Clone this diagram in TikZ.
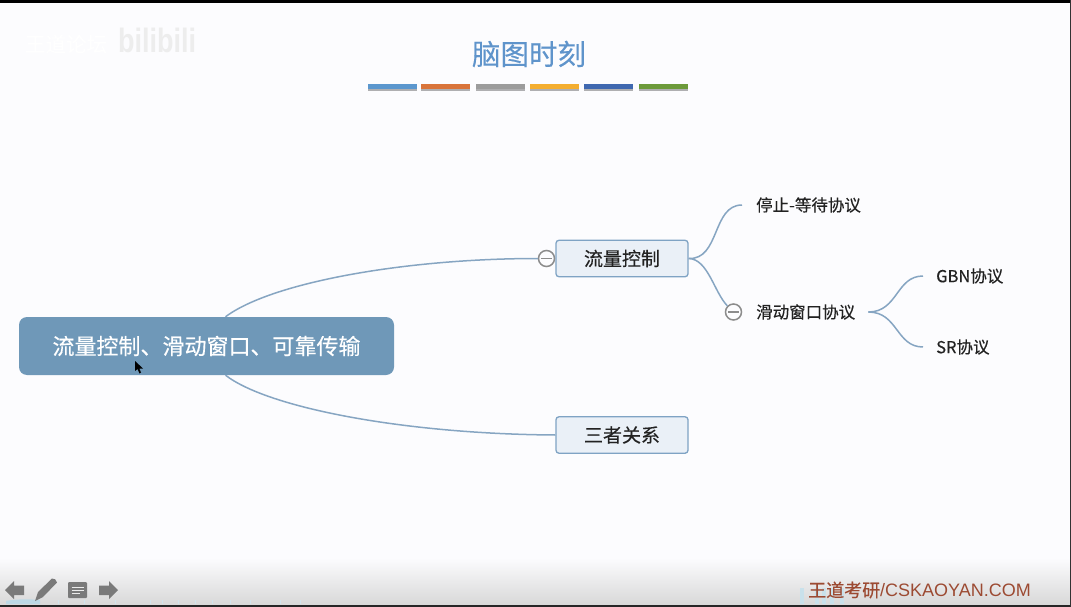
\documentclass[tikz,border=0pt]{standalone}
\usepackage{fontspec}
\setmainfont{Liberation Sans}
\newfontfamily\cjk[FakeBold=0.35]{Noto Sans CJK SC}
\usetikzlibrary{calc,shadows}
\definecolor{pagebg}{HTML}{FCFCFE}
\definecolor{titleblue}{HTML}{5F94CB}
\definecolor{linkblue}{HTML}{86A5C2}
\definecolor{rootfill}{HTML}{6F98B8}
\definecolor{boxfill}{HTML}{EAF0F7}
\definecolor{boxline}{HTML}{7FA3C4}
\definecolor{inktext}{HTML}{222222}
\definecolor{icongray}{HTML}{7A7A7A}
\definecolor{footred}{HTML}{9C4A32}
\definecolor{skyblue}{HTML}{BCD9E6}
\definecolor{barone}{HTML}{5B97CE}
\definecolor{bartwo}{HTML}{D9743A}
\definecolor{barthree}{HTML}{9C9C9C}
\definecolor{barfour}{HTML}{F4AE30}
\definecolor{barfive}{HTML}{3F68B0}
\definecolor{barsix}{HTML}{6C9A3A}
\tikzset{
  link/.style={draw=linkblue,line width=1.5pt},
  rootbox/.style={draw=none,fill=rootfill,rounded corners=8pt,minimum width=375pt,minimum height=58pt,inner sep=0pt,text=white,font=\cjk\fontsize{22}{24}\selectfont},
  topicbox/.style={draw=boxline,line width=1.3pt,fill=boxfill,rounded corners=3pt,minimum width=132pt,minimum height=36.5pt,inner sep=0pt,text=inktext,font=\cjk\fontsize{19}{22}\selectfont},
  leaf/.style={anchor=west,inner sep=0pt,text=inktext,font=\cjk\fontsize{16.5}{19}\selectfont},
  toggle/.style={circle,draw=black!45,line width=1.5pt,fill=pagebg,minimum size=16pt,inner sep=0pt},
  bar/.style={minimum height=5.5pt,minimum width=49pt,inner sep=0pt,anchor=west,drop shadow={shadow xshift=0pt,shadow yshift=-1.5pt,opacity=.3,fill=black}},
  icon/.style={fill=icongray,draw=none},
}
\begin{document}
\begin{tikzpicture}[x=1pt,y=-1pt]
\useasboundingbox (0,0) rectangle (1071,607);
% page
\fill[pagebg] (0,0) rectangle (1071,607);
\shade[top color=pagebg,bottom color=gray!30] (0,558) rectangle (1071,604);
\foreach \sx in {58,84,115,150,162,178,195,212,230,250,280,300}
  \fill[skyblue!70] (\sx,600) rectangle +(1,4);
\foreach \sx in {800,815,822,830,840}
  \fill[skyblue!80] (\sx,588) rectangle (\sx+4,604);
\fill[skyblue] (6,601) .. controls (15,599) and (30,599) .. (40,600) -- (40,604) -- (6,604) -- cycle;
\fill[black] (0,0) rectangle (1071,3);
\fill[black!85] (0,604.5) rectangle (1071,607);
\fill[black!80] (1069.5,0) rectangle (1071,607);
% watermarks
\node[inner sep=0pt,text=white,font=\cjk\fontsize{20.5}{22}\selectfont] (wm) at (66,44) {王道论坛};
\node[inner sep=0pt,text=black!7,yscale=1.25,font=\bfseries\fontsize{27}{28}\selectfont] (bili) at (157,40) {bilibili};
% title
\node[inner sep=0pt,text=titleblue,font=\cjk\fontsize{28.5}{32}\selectfont] (title) at (529,54) {脑图时刻};
\node[bar,fill=barone] (b1) at (367.5,86.5) {};
\node[bar,fill=bartwo] (b2) at (421,86.5) {};
\node[bar,fill=barthree] (b3) at (476,86.5) {};
\node[bar,fill=barfour] (b4) at (530,86.5) {};
\node[bar,fill=barfive] (b5) at (584,86.5) {};
\node[bar,fill=barsix] (b6) at (639,86.5) {};
% nodes
\node[rootbox] (root) at (206.5,346) {流量控制、滑动窗口、可靠传输};
\node[topicbox] (flow) at (622,258.5) {流量控制};
\node[topicbox] (rel) at (622,435) {三者关系};
\node[toggle] (t1) at (546.5,258.5) {};
\node[toggle] (t2) at (733.5,312) {};
\draw[black!45,line width=1.4pt] (t1.center) ++(-5.5,0) -- ++(11,0);
\draw[black!45,line width=1.4pt] (t2.center) ++(-5.5,0) -- ++(11,0);
\node[leaf] (stop) at (756,205) {停止-等待协议};
\node[leaf] (slide) at (756,312) {滑动窗口协议};
\node[leaf] (gbn) at (936,276) {GBN{\cjk 协议}};
\node[leaf] (sr) at (936,347) {SR{\cjk 协议}};
% free connector ends
\coordinate (rt) at ($(root.north)+(19,0)$);
\coordinate (rb) at ($(root.south)+(19,0)$);
\coordinate (stopend) at ($(stop.west)+(-14,0)$);
\coordinate (gbnend) at ($(gbn.west)+(-13,0)$);
\coordinate (srend) at ($(sr.west)+(-13,0)$);
\coordinate (slideout) at ($(slide.east)+(13,0)$);
% connectors
\draw[link] (rt) .. controls (272,282) and (407,258.5) .. (t1.west);
\draw[link] (rb) .. controls (268,408) and (405,434) .. (rel.west);
\draw[link] (flow.east) .. controls (720,260) and (712,205) .. (stopend);
\draw[link] (flow.east) .. controls (708,259) and (714,292) .. (t2.north west);
\draw[link] (slideout) .. controls (898,312) and (896,276) .. (gbnend);
\draw[link] (slideout) .. controls (898,312) and (896,347) .. (srend);
% cursor
\fill[black] (135,361) -- (135,371) -- (137.5,369) -- (139.5,373.5) -- (141,372.5) -- (139.3,368.5) -- (143,368.5) -- cycle;
% toolbar icons
\fill[icon] (5,590) -- (14,581) -- (14,585.5) -- (24,585.5) -- (24,595) -- (14,595) -- (14,599) -- cycle;
\fill[icon] (35,601) -- (38,592) -- (52,578.5) .. controls (54,578) and (57,580) .. (57,582.5) -- (43,597) -- cycle;
\fill[icon,rounded corners=1pt] (68,582) rectangle (87,598);
\draw[white!85!gray,line width=1pt] (71.5,587) -- (84,587) (71.5,590) -- (84,590) (71.5,593) -- (80,593);
\fill[icon] (118,590) -- (109,581) -- (109,585.5) -- (99,585.5) -- (99,595) -- (109,595) -- (109,599) -- cycle;
% footer
\node[inner sep=0pt,anchor=west,text=footred,font=\fontsize{18}{20}\selectfont] (foot) at (808,590) {{\cjk 王道考研}/CSKAOYAN.COM};
\end{tikzpicture}
\end{document}
